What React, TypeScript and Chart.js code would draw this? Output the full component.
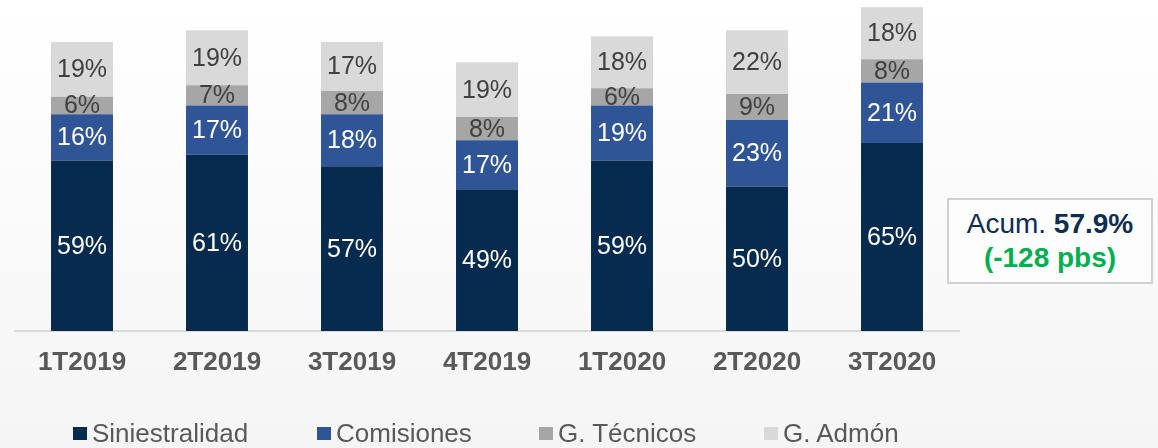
import React, { useEffect, useRef } from "react";
import { Chart, registerables } from "chart.js";

Chart.register(...registerables);

const categories = ["1T2019", "2T2019", "3T2019", "4T2019", "1T2020", "2T2020", "3T2020"];
const siniestralidad = [59, 61, 57, 49, 59, 50, 65];
const comisiones = [16, 17, 18, 17, 19, 23, 21];
const tecnicos = [6, 7, 8, 8, 6, 9, 8];
const admon = [19, 19, 17, 19, 18, 22, 18];
const seriesNames = ["Siniestralidad", "Comisiones", "G. Técnicos", "G. Admón"];
const seriesValues = [siniestralidad, comisiones, tecnicos, admon];
const seriesColors = ["#072a4f", "#2f5597", "#a6a6a6", "#d9d9d9"];
const labelColors = ["#ffffff", "#ffffff", "#404040", "#404040"];
const acumText = "Acum.";
const acumValue = "57.9%";
const acumDelta = "(-128 pbs)";

const FONT = "'Liberation Sans', Arial, Helvetica, sans-serif";

const valueLabels = {
  id: "valueLabels",
  afterDatasetsDraw(chart: any) {
    const ctx = chart.ctx;
    ctx.save();
    ctx.font = `25px ${FONT}`;
    ctx.textAlign = "center";
    ctx.textBaseline = "middle";
    chart.data.datasets.forEach((ds: any, i: number) => {
      const meta = chart.getDatasetMeta(i);
      meta.data.forEach((el: any, j: number) => {
        const p = el.getProps(["x", "y", "base"], true);
        ctx.fillStyle = labelColors[i];
        ctx.fillText(`${ds.data[j]}%`, p.x, (p.y + p.base) / 2 + 1);
      });
    });
    ctx.restore();
  },
};

export default function App() {
  const ref = useRef<HTMLCanvasElement>(null);
  useEffect(() => {
    if (!ref.current) return;
    const chart = new Chart(ref.current, {
      type: "bar",
      data: {
        labels: categories,
        datasets: seriesNames.map((name, i) => ({
          label: name,
          data: seriesValues[i],
          backgroundColor: seriesColors[i],
          borderWidth: 0,
          barPercentage: 0.459,
          categoryPercentage: 1,
        })),
      },
      options: {
        responsive: false,
        animation: false,
        devicePixelRatio: 1,
        layout: { padding: { left: 14.5, right: 198.5, top: 0, bottom: 61.8 } },
        plugins: { legend: { display: false }, tooltip: { enabled: false } },
        scales: {
          x: {
            stacked: true,
            grid: { display: false },
            border: { display: true, color: "#d9d9d9", width: 2 },
            ticks: {
              padding: 8,
              maxRotation: 0,
              autoSkip: false,
              color: "#595959",
              font: { family: FONT, size: 26, weight: "bold", lineHeight: 1.2 },
            },
          },
          y: { stacked: true, display: false, min: 0, max: 114.5 },
        },
      },
      plugins: [valueLabels],
    } as any);
    return () => chart.destroy();
  }, []);

  const legendLeft = [73, 317, 539, 764];

  return (
    <div
      style={{
        position: "absolute",
        left: 0,
        top: 0,
        width: 1158,
        height: 448,
        overflow: "hidden",
        background: "linear-gradient(#ffffff, #f5f5f5)",
        fontFamily: FONT,
      }}
    >
      <canvas ref={ref} width={1158} height={448} style={{ position: "absolute", left: 0, top: 0 }} />
      {seriesNames.map((name, i) => (
        <div
          key={name}
          style={{
            position: "absolute",
            left: legendLeft[i],
            top: 419.6,
            height: 26,
            lineHeight: "26px",
            fontSize: 26,
            color: "#595959",
            whiteSpace: "nowrap",
            display: "flex",
            alignItems: "flex-start",
          }}
        >
          <span
            style={{
              display: "inline-block",
              width: 14,
              height: 13,
              background: seriesColors[i],
              marginRight: 5,
              marginTop: 7.5,
            }}
          />
          <span>{name}</span>
        </div>
      ))}
      <div
        style={{
          position: "absolute",
          left: 947,
          top: 198,
          width: 206,
          height: 86,
          boxSizing: "border-box",
          border: "2px solid #d0d0d0",
          background: "#fdfdfd",
          display: "flex",
          flexDirection: "column",
          alignItems: "center",
          justifyContent: "center",
          fontSize: 28,
          lineHeight: "34px",
        }}
      >
        <div style={{ color: "#0d2d52", whiteSpace: "nowrap" }}>
          {acumText} <b>{acumValue}</b>
        </div>
        <div style={{ color: "#00b050", fontWeight: "bold", whiteSpace: "nowrap" }}>{acumDelta}</div>
      </div>
    </div>
  );
}
